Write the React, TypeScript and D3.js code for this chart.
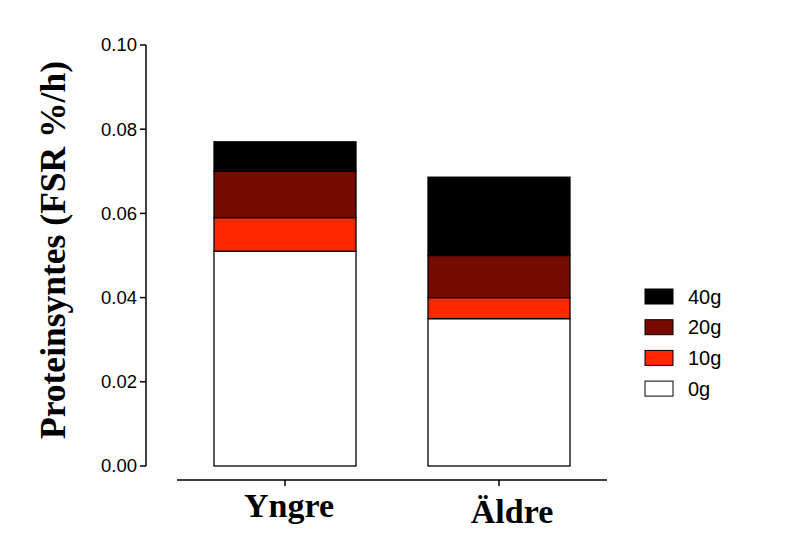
import * as d3 from "d3";

const categories = ["Yngre", "Äldre"];
const doses = ["0g", "10g", "20g", "40g"];
const dose0g = [0.051, 0.035];
const dose10g = [0.008, 0.005];
const dose20g = [0.011, 0.01];
const dose40g = [0.007, 0.0186];
const yTicks = [0, 0.02, 0.04, 0.06, 0.08, 0.1];
const doseColors = ["#ffffff", "#ff2600", "#760a00", "#000000"];

const W = 790;
const H = 553;

const App = () => {
  const rows = categories.map((c, i) => ({
    cat: c,
    "0g": dose0g[i],
    "10g": dose10g[i],
    "20g": dose20g[i],
    "40g": dose40g[i],
  }));
  const series = d3.stack<any>().keys(doses)(rows);

  const y = d3.scaleLinear().domain([0, 0.1]).range([466, 45]);
  const x = d3.scalePoint<string>().domain(categories).range([285, 499]);
  const barW = 142;
  const color = d3.scaleOrdinal<string, string>().domain(doses).range(doseColors);
  const fmt = d3.format(".2f");

  // hand-tuned label nudges to match the original layout
  const labelDx = [4, 13];
  const labelY = [517, 523];

  return (
    <svg
      width={W}
      height={H}
      style={{ position: "absolute", left: 0, top: 0, background: "#fff" }}
    >
      {/* bars */}
      {series.map((s) => (
        <g key={s.key} fill={color(s.key)}>
          {s.map((d, i) => (
            <rect
              key={i}
              x={(x(categories[i]) as number) - barW / 2}
              y={y(d[1])}
              width={barW}
              height={y(d[0]) - y(d[1])}
              stroke="#000"
              strokeWidth={1.3}
            />
          ))}
        </g>
      ))}

      {/* y axis */}
      <g fontFamily="Arial, 'Liberation Sans', sans-serif" fontSize={18.5}>
        <line x1={146} x2={146} y1={y(0.1)} y2={y(0)} stroke="#000" strokeWidth={1.5} />
        {yTicks.map((t) => (
          <g key={t}>
            <line x1={140} x2={146} y1={y(t)} y2={y(t)} stroke="#000" strokeWidth={1.5} />
            <text x={137} y={y(t)} dy="0.35em" textAnchor="end" fill="#000">
              {fmt(t)}
            </text>
          </g>
        ))}
      </g>

      {/* x axis */}
      <line x1={177} x2={607} y1={480} y2={480} stroke="#000" strokeWidth={1.5} />
      {categories.map((c, i) => (
        <g key={c}>
          <line
            x1={x(c)}
            x2={x(c)}
            y1={480}
            y2={486}
            stroke="#000"
            strokeWidth={1.5}
          />
          <text
            x={(x(c) as number) + labelDx[i]}
            y={labelY[i]}
            textAnchor="middle"
            fontFamily="'Liberation Serif', 'Times New Roman', serif"
            fontWeight="bold"
            fontSize={34}
            fill="#000"
          >
            {c}
          </text>
        </g>
      ))}

      {/* y label */}
      <text
        transform="translate(65,250) rotate(-90)"
        textAnchor="middle"
        fontFamily="'Liberation Serif', 'Times New Roman', serif"
        fontWeight="bold"
        fontSize={35.5}
        fill="#000"
      >
        Proteinsyntes (FSR %/h)
      </text>

      {/* legend */}
      <g fontFamily="Arial, 'Liberation Sans', sans-serif" fontSize={20}>
        {doses
          .slice()
          .reverse()
          .map((k, i) => (
            <g key={k} transform={`translate(645,${289 + i * 30.7})`}>
              <rect width={28} height={15} fill={color(k)} stroke="#000" strokeWidth={1} />
              <text x={43} y={7.5} dy="0.36em" fill="#000">
                {k}
              </text>
            </g>
          ))}
      </g>
    </svg>
  );
};

export default App;
